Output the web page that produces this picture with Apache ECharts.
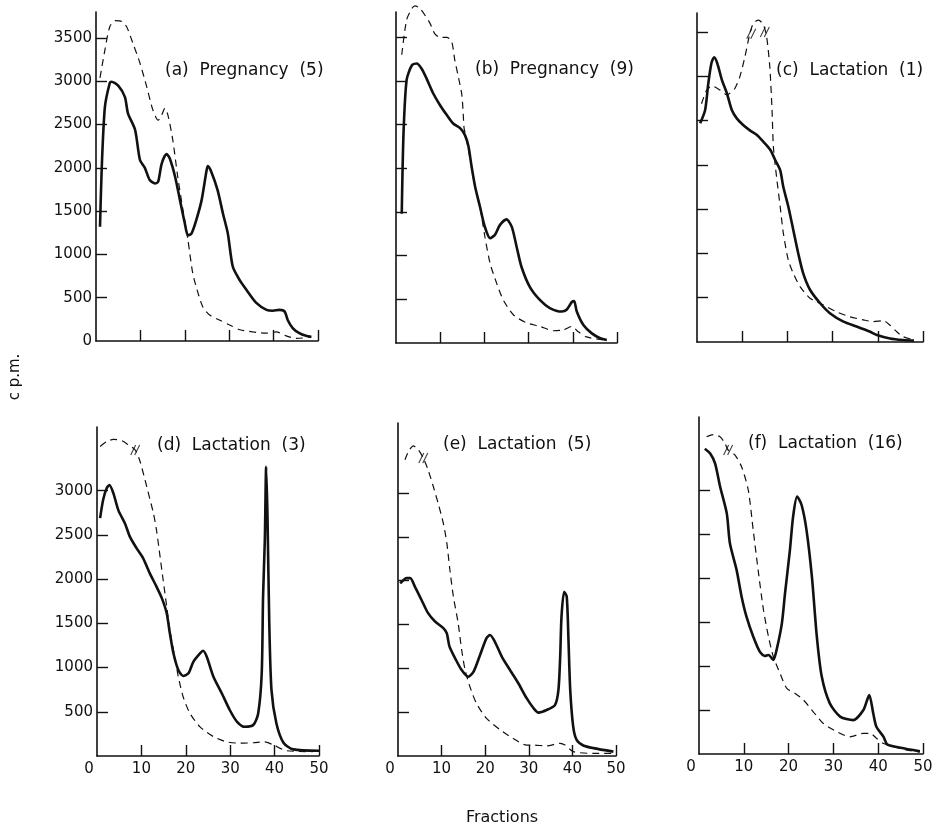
<!DOCTYPE html>
<html><head><meta charset="utf-8">
<script src="https://cdn.jsdelivr.net/npm/echarts@6/dist/echarts.min.js"></script>
<style>html,body{margin:0;padding:0;background:#fff}#c{width:938px;height:829px}</style>
</head><body><div id="c"></div>
<script>
// ---------- tick values / labels ----------
const xTickValues = [10, 20, 30, 40, 50];
const xLabelValues = [0, 10, 20, 30, 40, 50];
const yTickTop = [500, 1000, 1500, 2000, 2500, 3000, 3500];
const yLabelTop = [0, 500, 1000, 1500, 2000, 2500, 3000, 3500];
const yTickBottom = [500, 1000, 1500, 2000, 2500, 3000];
const yLabelBottom = [500, 1000, 1500, 2000, 2500, 3000];
const panelTitles = ['(a)  Pregnancy  (5)', '(b)  Pregnancy  (9)', '(c)  Lactation  (1)',
                     '(d)  Lactation  (3)', '(e)  Lactation  (5)', '(f)  Lactation  (16)'];

// ---------- (a) Pregnancy (5) ----------
const aSolidX = [0.9,1.3,2,3.1,3.5,5,6.5,7.2,8.8,9.9,11,12.1,13.3,14,14.8,15.9,16.6,17.8,18.9,20,20.7,21.5,22.6,23.8,24.9,25.2,26,27.4,28.6,29.7,30.8,32.4,33.9,36.1,38.4,39.8,41.3,42.5,43.2,44.3,45.8,47.3,48.5];
const aSolidY = [1320,2010,2700,2980,2995,2950,2820,2630,2440,2090,2000,1860,1820,1840,2050,2160,2110,1900,1630,1360,1220,1240,1400,1630,1970,2020,1950,1740,1470,1240,860,700,590,440,360,350,360,340,240,150,90,60,50];
const aDashX = [0.9,2,3.1,4.3,5.8,6.9,8.3,9.9,11.4,12.8,14,14.8,15.5,16.2,17.3,18.4,19.6,20.7,21.8,23,24.1,25.6,27.9,30.1,32.4,35.3,38.4,40.6,42.8,45.1,48.5];
const aDashY = [3040,3360,3630,3700,3690,3630,3440,3210,2940,2670,2550,2610,2690,2610,2320,1900,1510,1170,780,550,390,300,240,185,130,105,90,105,60,30,45];

// ---------- (b) Pregnancy (9) ----------
const bSolidX = [1.3,1.7,2.4,3.6,4.7,5.8,6.9,8.4,10,11.5,13,14.5,15.6,16.4,17.1,17.9,19,20.1,21.3,22.4,23.5,25,26.2,27.3,28.4,30.3,32.6,34.8,37.5,38.6,39.8,40.3,40.9,42.4,44.3,46.2,47.7];
const bSolidY = [1480,2400,3010,3180,3200,3140,3030,2860,2720,2610,2510,2460,2380,2250,2020,1790,1560,1330,1200,1240,1350,1415,1330,1100,870,640,490,400,360,380,470,480,360,205,110,55,35];
const bDashX = [1.3,2.4,3.6,4.3,5.4,6.6,7.7,8.8,10,11.5,12.6,13.3,14.1,14.9,15.2,15.4,15.8,17.1,17.9,19,20.1,21.3,22.8,24.3,26.6,29.6,32.6,35.6,37.9,39.8,41.2,43.1,46.2,47.7];
const bDashY = [3300,3700,3830,3860,3830,3750,3660,3540,3500,3500,3450,3240,3050,2840,2630,2460,2370,2020,1790,1560,1220,910,680,490,320,230,190,140,150,190,130,70,40,35];

// ---------- (c) Lactation (1) ----------
const cSolidX = [0.7,1.8,2.5,3.2,3.8,4.5,5.5,6.6,7.7,8.8,10.2,11.7,13.2,14.7,16.2,17.3,18.4,19.1,20.2,21.3,22.4,23.5,25,27.2,29.4,32.4,35.3,38.3,39.8,42.7,45.6,48];
const cSolidY = [2470,2620,2920,3150,3215,3145,2960,2810,2620,2525,2450,2390,2340,2260,2170,2055,1940,1750,1530,1265,1000,775,590,440,325,230,175,115,80,40,22,15];
const cDashX = [1,2.1,3.3,5.1,6.6,7.3,8.4,9.5,10.6,11.7,12.5,13.6,14.7,15.4,16.1,16.6,16.9,17.6,18.4,19.1,20.2,21.3,22.8,25,27.9,30.9,33.8,36.8,39,41.2,42.7,44.2,45.6,48];
const cDashY = [2690,2840,2890,2845,2790,2810,2865,3000,3220,3485,3600,3635,3580,3450,3110,2620,2205,1865,1530,1230,925,775,625,495,420,340,285,250,230,240,190,115,60,25];
const cBreakX = [12.0, 15.0];
const cBreakY = [3480, 3500];

// ---------- (d) Lactation (3) ----------
const dSolidX = [0.7,1.4,2.2,2.8,3.7,4.8,6.3,7.4,8.9,10.4,11.9,13.4,14.6,15.7,16.4,17.2,18.3,19.4,20.6,21.7,23.2,23.9,24.7,26.2,28.1,29.9,31.5,33.3,35.2,36.3,37.1,37.4,37.8,38.1,38.4,38.8,39.3,40.4,42,44.2,50];
const dSolidY = [2690,2900,3030,3065,2970,2780,2630,2480,2350,2235,2065,1915,1785,1615,1390,1165,975,905,935,1065,1160,1190,1125,900,710,520,390,330,350,480,935,1800,2445,3270,2710,1500,745,370,150,75,60];
const dDashX = [0.7,2.2,3.7,5.6,7,8.6,9.7,11.2,12.7,13.4,14.2,14.9,15.7,16.4,17.5,18.3,19.4,20.9,23.2,26.2,29.2,32.2,35.2,37.8,39.7,42.7,48.6];
const dDashY = [3500,3555,3580,3565,3520,3460,3330,3045,2745,2555,2255,1990,1690,1425,1125,900,670,485,330,220,160,145,150,160,125,60,50];
const dBreakX = [8.6];
const dBreakY = [3460];

// ---------- (e) Lactation (5) ----------
const eSolidX = [0.5,2,2.8,3.9,5.4,6.9,8.5,10.4,11.2,11.8,13.1,14.6,16.1,17.3,18.8,20.3,21.1,22.2,23.8,25.7,27.6,29.5,31.1,32.2,34.1,36,36.8,37.2,37.5,38.1,38.7,39.1,39.5,40.2,41,42.5,44.8,49.4];
const eSolidY = [1970,2030,2030,1930,1780,1630,1535,1460,1400,1250,1115,980,905,960,1150,1345,1380,1305,1135,980,830,660,545,495,525,580,755,1135,1590,1875,1820,1325,755,330,180,120,90,50];
const eDashX = [1.6,2.4,3.5,4.7,5.8,6.9,8.1,9.2,10.4,11.2,11.9,12.7,13.8,14.6,15.4,16.5,18,20.3,23.4,26.4,29.5,31,34.1,37.2,38.3,40.2,44.8,49.4];
const eDashY = [3380,3475,3540,3490,3400,3265,3075,2885,2655,2430,2125,1820,1515,1210,980,790,600,430,300,200,125,125,115,145,125,50,30,30];
const eBreakX = [5.8];
const eBreakY = [3400];

// ---------- (f) Lactation (16) ----------
const fSolidX = [1.3,2.5,3.6,4.7,6.2,6.9,8.4,9.5,10.6,12.1,13.6,14.7,15.5,16.6,17.3,18.5,19.2,20.3,21,21.9,22.9,24,25.2,26.3,27.4,29.2,31.5,34.4,36.7,38,38.9,39.6,41.2,42,45,49.3];
const fSolidY = [3470,3415,3300,3040,2735,2395,2090,1790,1560,1335,1160,1115,1125,1070,1180,1485,1825,2320,2695,2925,2830,2545,2015,1335,880,575,425,385,500,670,460,310,195,110,70,30];
const fDashX = [1.7,3.2,4.7,5.8,6.5,8,9.5,11,12.1,13.2,14.4,15.5,16.6,18.1,19.6,21.4,23.3,25.5,27.7,30.7,33.7,36.7,38.2,39.6,41.2,46.4,49.3];
const fDashY = [3605,3630,3605,3530,3455,3400,3265,3000,2545,2090,1635,1335,1105,915,745,690,615,480,350,255,195,235,235,180,120,45,25];
const fBreakX = [6.5];
const fBreakY = [3455];

// ---------- build ----------
const zip = (xs, ys) => xs.map((x, i) => [x, ys[i]]);
const INK = '#111';
const FONT = 'DejaVu Sans';

const grids = [
  {left: 96,  top: 12,  width: 222, height: 329},
  {left: 396, top: 12,  width: 221, height: 331},
  {left: 697, top: 13,  width: 226, height: 329},
  {left: 97,  top: 427, width: 222, height: 329},
  {left: 398, top: 423, width: 218, height: 333},
  {left: 699, top: 417, width: 224, height: 337}
].map(g => Object.assign({containLabel: false, outerBoundsMode: 'none', show: false}, g));
const yMax = [3800, 3790, 3715, 3720, 3800, 3830];

function xAxis(i) {
  const bottom = i >= 3;
  return {
    type: 'value', gridIndex: i, min: 0, max: 50, interval: 10,
    axisLine: {show: true, onZero: false, lineStyle: {color: INK, width: 1.6}},
    axisTick: {show: true, inside: true, length: 11, customValues: xTickValues, lineStyle: {color: INK, width: 1.4}},
    splitLine: {show: false},
    axisLabel: {
      show: bottom, customValues: xLabelValues, margin: 6,
      color: INK, fontFamily: FONT, fontSize: 15,
      formatter: v => v === 0 ? '{z|0}' : String(v),
      rich: {z: {padding: [0, 16, 0, 0], color: INK, fontFamily: FONT, fontSize: 15}}
    }
  };
}
function yAxis(i) {
  const top = i < 3;
  const showLab = (i === 0 || i === 3);
  return {
    type: 'value', gridIndex: i, min: 0, max: yMax[i],
    axisLine: {show: true, onZero: false, lineStyle: {color: INK, width: 1.6}},
    axisTick: {show: true, inside: true, length: 11, customValues: top ? yTickTop : yTickBottom, lineStyle: {color: INK, width: 1.4}},
    splitLine: {show: false},
    axisLabel: {
      show: showLab, customValues: i === 0 ? yLabelTop : yLabelBottom, margin: 4,
      color: INK, fontFamily: FONT, fontSize: 15,
      formatter: v => String(v)
    }
  };
}

const solidSets = [[aSolidX, aSolidY], [bSolidX, bSolidY], [cSolidX, cSolidY], [dSolidX, dSolidY], [eSolidX, eSolidY], [fSolidX, fSolidY]];
const dashSets = [[aDashX, aDashY], [bDashX, bDashY], [cDashX, cDashY], [dDashX, dDashY], [eDashX, eDashY], [fDashX, fDashY]];
const breakSets = [null, null, [cBreakX, cBreakY], [dBreakX, dBreakY], [eBreakX, eBreakY], [fBreakX, fBreakY]];

const series = [];
for (let i = 0; i < 6; i++) {
  series.push({
    type: 'line', xAxisIndex: i, yAxisIndex: i, data: zip(dashSets[i][0], dashSets[i][1]),
    showSymbol: false, smooth: 0.25, clip: false, silent: true, z: 2,
    lineStyle: {color: INK, width: 1.2, type: [7, 5]}
  });
  series.push({
    type: 'line', xAxisIndex: i, yAxisIndex: i, data: zip(solidSets[i][0], solidSets[i][1]),
    showSymbol: false, smooth: 0.25, clip: false, silent: true, z: 3,
    lineStyle: {color: INK, width: 2.6}
  });
  if (breakSets[i]) {
    series.push({
      type: 'scatter', xAxisIndex: i, yAxisIndex: i, data: zip(breakSets[i][0], breakSets[i][1]),
      symbol: 'path://M0,10L5,0M4,10L9,0', symbolSize: [9, 10], silent: true, z: 4,
      itemStyle: {color: 'rgba(0,0,0,0)', borderColor: INK, borderWidth: 1.2}
    });
  }
}

const titlePos = [[165, 62], [475, 61], [776, 62], [157, 437], [443, 436], [748, 435]];
const graphic = panelTitles.map((t, i) => ({
  type: 'text', left: titlePos[i][0], top: titlePos[i][1], silent: true,
  style: {text: t, fill: INK, font: '17px "DejaVu Sans"'}
}));
graphic.push({
  type: 'text', x: 15, y: 377, rotation: Math.PI / 2, silent: true,
  style: {text: 'c p.m.', fill: INK, font: '15px "DejaVu Sans"', align: 'center', verticalAlign: 'middle'}
});
graphic.push({
  type: 'text', x: 502, y: 818, silent: true,
  style: {text: 'Fractions', fill: INK, font: '16px "DejaVu Sans"', align: 'center', verticalAlign: 'middle'}
});

const chart = echarts.init(document.getElementById('c'), null, {renderer: 'canvas'});
chart.setOption({
  backgroundColor: '#fff',
  animation: false,
  grid: grids,
  xAxis: [0,1,2,3,4,5].map(xAxis),
  yAxis: [0,1,2,3,4,5].map(yAxis),
  series: series,
  graphic: graphic
});
</script></body></html>
